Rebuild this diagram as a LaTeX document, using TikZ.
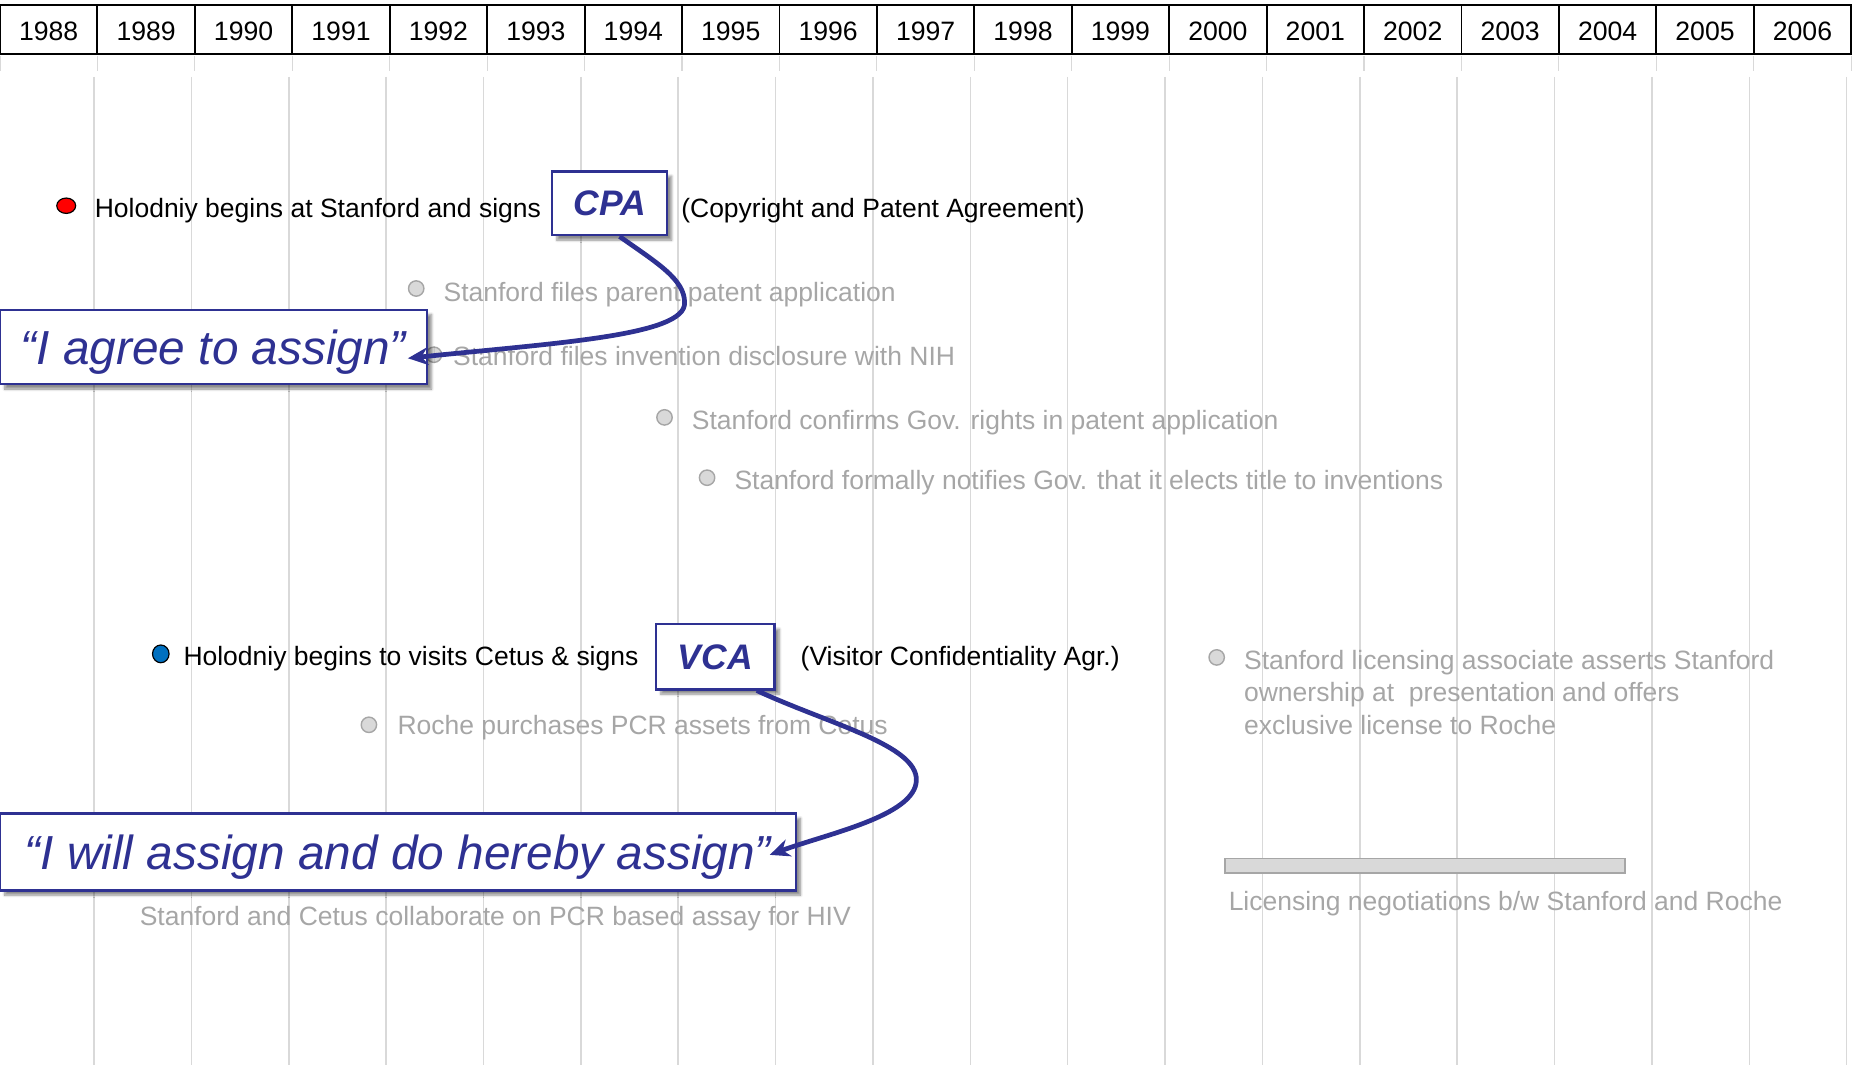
\documentclass[tikz,border=0pt]{standalone}
\usepackage{fontspec}
\setmainfont{Liberation Sans}
\usetikzlibrary{arrows.meta,shadows.blur,shapes.geometric}
\definecolor{navy}{RGB}{46,49,146}
\definecolor{txtgray}{RGB}{166,166,166}
\definecolor{gridgray}{RGB}{217,217,217}
\definecolor{dotgray}{RGB}{217,217,217}
\definecolor{dotblue}{RGB}{0,112,192}
\tikzset{
  yearcell/.style={draw=black, line width=1.6pt, minimum width=82.4pt, minimum height=42pt, inner sep=0pt, text height=19pt, text depth=0pt, font=\fontsize{22.5pt}{27pt}\selectfont},
  tickline/.style={draw=gridgray, line width=1pt},
  gridline/.style={draw=gridgray, line width=1.3pt},
  bodytext/.style={inner sep=0pt, anchor=base west, font=\fontsize{22.4pt}{27.5pt}\selectfont, text=black},
  graytext/.style={bodytext, text=txtgray},
  graydot/.style={ellipse, draw=txtgray, fill=dotgray, line width=1.2pt, minimum width=13pt, minimum height=13pt, inner sep=0pt},
  agreebox/.style={rectangle, draw=navy, line width=2pt, fill=white, inner sep=0pt, text=navy,
     blur shadow={shadow xshift=4pt, shadow yshift=-4pt, shadow blur steps=6, shadow opacity=45}},
  quote/.style={agreebox, text depth=0pt, font=\fontsize{40.4pt}{48pt}\selectfont\itshape},
  abbr/.style={agreebox, font=\fontsize{30pt}{36pt}\selectfont\bfseries\itshape},
  bigarrow/.style={draw=navy, line width=4pt, -{Stealth[length=17pt,width=15pt]}},
}
\begin{document}
\begin{tikzpicture}[x=1pt,y=-1pt]
\useasboundingbox (0,0) rectangle (1568,901);
% grid lines
\foreach \i in {0,...,18} \draw[gridline] ({79.5+82.35*\i},65) -- ({79.5+82.35*\i},901);
\foreach \i in {0,...,19} \draw[tickline] ({82.4*\i},47) -- ({82.4*\i},60);
% year header
\foreach \i [evaluate=\i as \yr using {int(1988+\i)}] in {0,...,18}
  \node[yearcell] (y\i) at ({41.2+82.4*\i},25) {\yr};
% first row
\node[ellipse, draw=black, fill=red, line width=1pt, minimum width=16pt, minimum height=13pt, inner sep=0pt] (d1) at (56,174) {};
\node[bodytext] (t1) at (80,184) {Holodniy begins at Stanford and signs};
\node[abbr, minimum width=97pt, minimum height=54pt] (cpa) at (515.5,172) {CPA};
\node[bodytext] (t1b) at (576,184) {(Copyright and Patent Agreement)};
% gray items
\node[graydot] (g1) at (352,244) {};
\node[graytext] (gt1) at (375,255) {Stanford files parent patent application};
\node[graydot] (g2) at (367,300) {};
\node[graytext] (gt2) at (383,309) {Stanford files invention disclosure with NIH};
\node[graydot] (g3) at (562,353) {};
\node[graytext] (gt3) at (585,363) {Stanford confirms Gov. rights in patent application};
\node[graydot] (g4) at (598,404) {};
\node[graytext] (gt4) at (621,414) {Stanford formally notifies Gov. that it elects title to inventions};
% I agree box
\node[quote, minimum width=361pt, minimum height=63pt] (agree) at (180.5,293.5) {“I agree to assign”};
% second row
\node[ellipse, draw=black, fill=dotblue, line width=1pt, minimum width=14pt, minimum height=15pt, inner sep=0pt] (d2) at (136,553) {};
\node[bodytext] (t2) at (155,563) {Holodniy begins to visits Cetus \& signs};
\node[abbr, minimum width=100pt, minimum height=55pt] (vca) at (605,555.5) {VCA};
\node[bodytext] (t2b) at (677,563) {(Visitor Confidentiality Agr.)};
\node[graydot] (g5) at (312,613) {};
\node[graytext] (gt5) at (336,621) {Roche purchases PCR assets from Cetus};
\node[graydot] (g6) at (1029,556) {};
\node[graytext, anchor=north west, align=left] (gt6) at (1052,549.5) {Stanford licensing associate asserts Stanford\\ownership at\ \ presentation and offers\\exclusive license to Roche};
% I will box
\node[quote, minimum width=673pt, minimum height=65pt] (will) at (336.5,720.5) {“I will assign and do hereby assign”};
\node[graytext] (gt7) at (118,783) {Stanford and Cetus collaborate on PCR based assay for HIV};
% licensing bar
\node[rectangle, draw=txtgray, fill=dotgray, line width=1.5pt, minimum width=338pt, minimum height=12pt, inner sep=0pt] (bar) at (1205,732) {};
\node[graytext] (gt8) at (1039,770) {Licensing negotiations b/w Stanford and Roche};
% arrows
\draw[bigarrow] ([xshift=8.5pt]cpa.south) .. controls (555,222) and (579,236) .. (579,256)
   .. controls (580,284) and (470,290) .. ([shift={(-17,9.5)}]agree.east);
\draw[bigarrow] ([xshift=35pt]vca.south) .. controls (700,612) and (776,630) .. (775,660)
   .. controls (774,690) and (700,705) .. ([shift={(-23,2.5)}]will.east);
\end{tikzpicture}
\end{document}
